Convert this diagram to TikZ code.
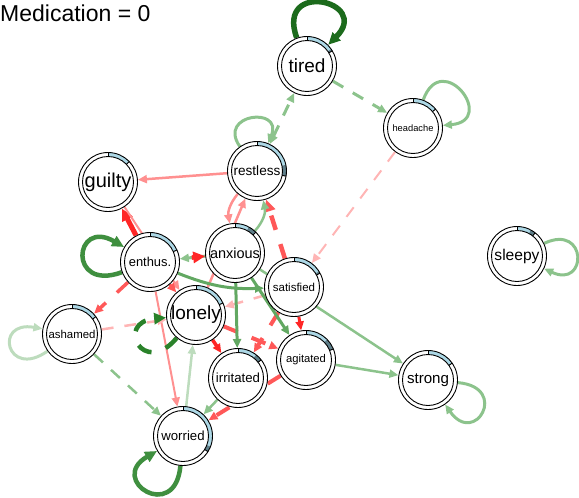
\documentclass[tikz,border=0pt]{standalone}
\usepackage{fontspec}
\setmainfont{Liberation Sans}
\usetikzlibrary{arrows.meta}
\pgfdeclarelayer{edgelayer}
\pgfsetlayers{edgelayer,main}
\definecolor{pieblue}{HTML}{ADD8E6}
\definecolor{piedark}{HTML}{5F7F8A}
\definecolor{gdark}{HTML}{1C6B1C}
\definecolor{gmid}{HTML}{3F8F3F}
\definecolor{gdeep}{HTML}{2A822A}
\definecolor{gmed}{HTML}{62A862}
\definecolor{glight}{HTML}{8CC38C}
\definecolor{gpale}{HTML}{BDDCBD}
\definecolor{rstrong}{HTML}{FF2626}
\definecolor{rmid}{HTML}{FF5858}
\definecolor{rlight}{HTML}{FF9090}
\definecolor{rpale}{HTML}{FFB5B5}

% node with a two-part pie ring: name, x, y, font size, label, blue end, dark end
\newcommand{\qgnode}[7]{%
  \node[qnode, font=\fontsize{#4}{#4}\selectfont] (#1) at (#2,#3) {#5};
  \fill[pieblue] ([shift={(90:29.5)}]#1.center) arc[start angle=90, end angle={90-#6}, radius=29.5pt]
     -- ([shift={({90-#6}:25.5)}]#1.center) arc[start angle={90-#6}, end angle=90, radius=25.5pt] -- cycle;
  \fill[piedark] ([shift={({90-#6}:29.5)}]#1.center) arc[start angle={90-#6}, end angle={90-#7}, radius=29.5pt]
     -- ([shift={({90-#7}:25.5)}]#1.center) arc[start angle={90-#7}, end angle={90-#6}, radius=25.5pt] -- cycle;
  \draw[line width=0.9pt] (#1.center) circle[radius=29.5pt];
  \draw[line width=0.9pt] (#1.center) circle[radius=25.5pt];
  \draw[line width=0.9pt] ([shift={(90:25.5)}]#1.center) -- ([shift={(90:29.5)}]#1.center);
  \draw[line width=0.9pt] ([shift={({90-#7}:25.5)}]#1.center) -- ([shift={({90-#7}:29.5)}]#1.center);
}

\begin{document}
\begin{tikzpicture}[x=1pt,y=1pt,
  qnode/.style={circle, minimum size=59pt, inner sep=0pt, outer sep=0.5pt, fill=white},
  tipA/.style={-{Triangle[length=9pt,width=8pt]}},
  tipB/.style={-{Triangle[length=12pt,width=11pt]}},
  tipAA/.style={{Triangle[length=9pt,width=8pt]}-{Triangle[length=9pt,width=8pt]}},
  qdash/.style={dash pattern=on 12pt off 11pt},
  qdashB/.style={dash pattern=on 15pt off 15pt},
]
\useasboundingbox (0,0) rectangle (579,-498);

\node[anchor=base west, inner sep=0pt, font=\fontsize{23}{23}\selectfont] (title) at (0,-21.7) {Medication = 0};

\qgnode{tired}{307}{-66}{19}{tired}{55}{59}
\qgnode{headache}{413}{-128}{9.3}{headache}{50}{50}
\qgnode{restless}{257}{-171}{13.6}{restless}{78}{100}
\qgnode{guilty}{108}{-182}{20}{guilty}{46}{46}
\qgnode{anxious}{235}{-253}{14.5}{anxious}{28}{45}
\qgnode{enthus}{150}{-262}{12.9}{enthus.}{66}{66}
\qgnode{satisfied}{294}{-287}{11.5}{satisfied}{58}{62}
\qgnode{sleepy}{517}{-256}{15.6}{sleepy}{28}{38}
\qgnode{lonely}{196}{-315}{19}{lonely}{66}{66}
\qgnode{ashamed}{72}{-334}{11.4}{ashamed}{54}{54}
\qgnode{agitated}{306}{-360}{11.2}{agitated}{46}{68}
\qgnode{irritated}{238}{-378}{13.2}{irritated}{38}{52}
\qgnode{strong}{428}{-380}{15.1}{strong}{55}{55}
\qgnode{worried}{183}{-436}{13.2}{worried}{111}{122}

\begin{pgfonlayer}{edgelayer}
% self-loops
\draw[gdark, line width=5.5pt, tipB] (tired) to[out=110, in=45, distance=62pt] (tired);
\draw[glight, line width=3pt, tipA] (restless) to[out=125, in=68, distance=40pt] (restless);
\draw[glight, line width=3pt, tipA] (headache) to[out=70, in=5, distance=55pt] (headache);
\draw[glight, line width=3pt, tipA] (sleepy) to[out=25, in=-25, distance=48pt] (sleepy);
\draw[glight, line width=3pt, tipA] (strong) to[out=-5, in=-55, distance=52pt] (strong);
\draw[gmid, line width=4.5pt, tipB] (worried) to[out=-95, in=-150, distance=58pt] (worried);
\draw[gmid, line width=4.5pt, tipB] (enthus) to[out=-160, in=150, distance=58pt] (enthus);
\draw[gpale, line width=3pt, tipA] (ashamed) to[out=-145, in=170, distance=50pt] (ashamed);

% negative edges
\draw[rpale, line width=2pt, qdash, tipA] (headache) -- (satisfied);
\draw[rlight, line width=2.5pt, tipA] (restless) -- (guilty);
\draw[rlight, line width=2.5pt, tipA] (restless) to[bend right=25] (anxious);
\draw[rlight, line width=2.5pt, tipA] (lonely) -- (restless);
\draw[rmid, line width=4.5pt, qdashB, tipB] (satisfied) -- (restless);
\draw[rstrong, line width=5pt, tipB] (enthus) -- (guilty);
\draw[rlight, line width=2pt, tipA] (guilty) -- (lonely);
\draw[rmid, line width=3pt, tipA] (enthus) -- (lonely);
\draw[rmid, line width=3.5pt, qdashB, tipA] (enthus) -- (ashamed);
\draw[rlight, line width=2pt, tipA] (enthus) -- (worried);
\draw[rpale, line width=2.5pt, qdash, tipA] (ashamed) -- (lonely);
\draw[rpale, line width=2.5pt, qdash, tipA] (satisfied) -- (lonely);
\draw[rstrong, line width=3.5pt, tipA] (lonely) -- (irritated);
\draw[rmid, line width=4pt, qdashB, tipA] (lonely) -- (agitated);
\draw[rmid, line width=4pt, qdashB, tipA] (satisfied) -- (irritated);
\draw[rstrong, line width=3pt, tipA] (satisfied) -- (agitated);
\draw[rmid, line width=4pt, qdashB, tipA] (agitated) -- (worried);

% positive edges
\draw[glight, line width=3pt, qdash, tipA] (tired) -- (headache);
\draw[glight, line width=3pt, qdash, tipAA] (restless) -- (tired);
\draw[glight, line width=2.5pt, tipA] (anxious) to[bend right=27] (restless);
\draw[glight, line width=3pt, tipA] (anxious) -- (enthus);
\draw[gmed, line width=3pt, tipA] (enthus) to[bend right=12] (satisfied);
\draw[glight, line width=2.5pt, tipA] (anxious) -- (strong);
\draw[gmed, line width=3pt, tipA] (anxious) -- (irritated);
\draw[gmed, line width=3pt, tipA] (anxious) -- (agitated);
\draw[glight, line width=2.5pt, qdash, tipA] (ashamed) -- (worried);
\draw[gpale, line width=2.5pt, tipA] (worried) -- (lonely);
\draw[glight, line width=2.5pt, tipA] (irritated) -- (worried);
\draw[glight, line width=2.5pt, tipA] (agitated) -- (strong);

% dashed red edge over the green one it shares a line with, starting on a gap
\draw[rstrong, line width=4.5pt, dash pattern=on 12pt off 14pt, dash phase=14pt, tipB] (enthus) -- (anxious);

% dashed loop drawn over the other lonely edges
\draw[gdeep, line width=4.5pt, qdashB, tipB] (lonely) to[out=-130, in=185, distance=52pt] (lonely);
\end{pgfonlayer}
\end{tikzpicture}
\end{document}
